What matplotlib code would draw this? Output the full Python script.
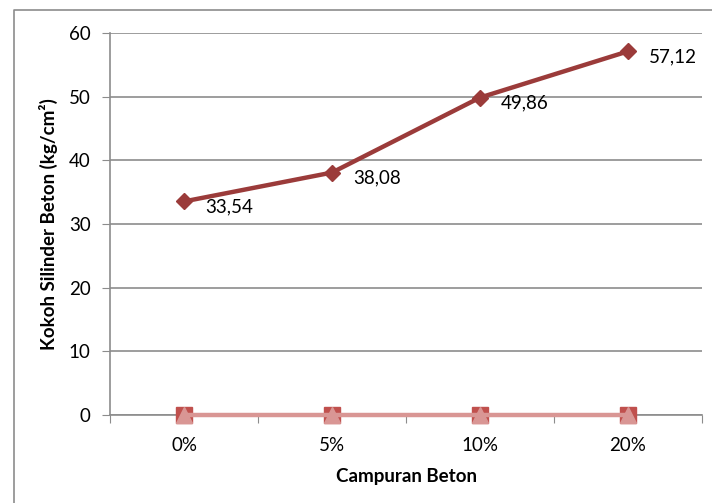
import matplotlib.pyplot as plt
from matplotlib.lines import Line2D

plt.rcParams['font.family'] = ['Lato', 'DejaVu Sans']

categories = ['0%', '5%', '10%', '20%']
kokoh = [33.54, 38.08, 49.86, 57.12]
seri2 = [0, 0, 0, 0]
seri3 = [0, 0, 0, 0]
labels = ['33,54', '38,08', '49,86', '57,12']

fig = plt.figure(figsize=(7.12, 5.03), dpi=100)
ax = fig.add_axes([0.1545, 0.175, 0.8315, 0.7594])

x = list(range(len(categories)))

# outer chart frame (left + top visible)
fig.add_artist(Line2D([14/712, 14/712, 1.0], [0.0, 1 - 10/503, 1 - 10/503],
                      transform=fig.transFigure, color='#8c8c8c', lw=1.2))

ax.set_ylim(0, 60)
ax.set_xlim(-0.5, 3.5)
ax.set_yticks(range(0, 61, 10))
ax.yaxis.grid(True, color='#8c8c8c', lw=1.2)
ax.set_axisbelow(True)

ax.plot(x, seri2, marker='s', color='#C0504D', ms=11, lw=0, zorder=3, clip_on=False)
ax.plot(x, seri3, marker='^', color='#D99694', ms=11, lw=3.2, zorder=4, clip_on=False)
ax.plot(x, kokoh, marker='D', color='#9B3B3A', ms=8.5, lw=3.2, zorder=5)

for xi, yi, lab in zip(x, kokoh, labels):
    ax.annotate(lab, (xi, yi), xytext=(15, -4), textcoords='offset points',
                ha='left', va='center', fontsize=13.5, color='black')

ax.set_xticks([i + 0.5 for i in range(-1, 4)])
ax.set_xticklabels([])
ax.set_xticks(x, minor=True)
ax.set_xticklabels(categories, minor=True)
ax.tick_params(axis='x', which='minor', length=0, pad=16, labelsize=13.5)
ax.tick_params(axis='x', which='major', length=6, color='#8c8c8c', direction='out')
ax.tick_params(axis='y', length=6, color='#8c8c8c', labelsize=13.5, pad=8)

for s in ['top', 'right']:
    ax.spines[s].set_visible(False)
for s in ['left', 'bottom']:
    ax.spines[s].set_color('#8c8c8c')
    ax.spines[s].set_linewidth(1.2)

ax.set_xlabel('Campuran Beton', fontsize=13.5, fontweight='bold', labelpad=10)
ax.set_ylabel('Kokoh Silinder Beton (kg/cm²)', fontsize=13.5, fontweight='bold', labelpad=8)

fig.savefig('out.png', dpi=100)
